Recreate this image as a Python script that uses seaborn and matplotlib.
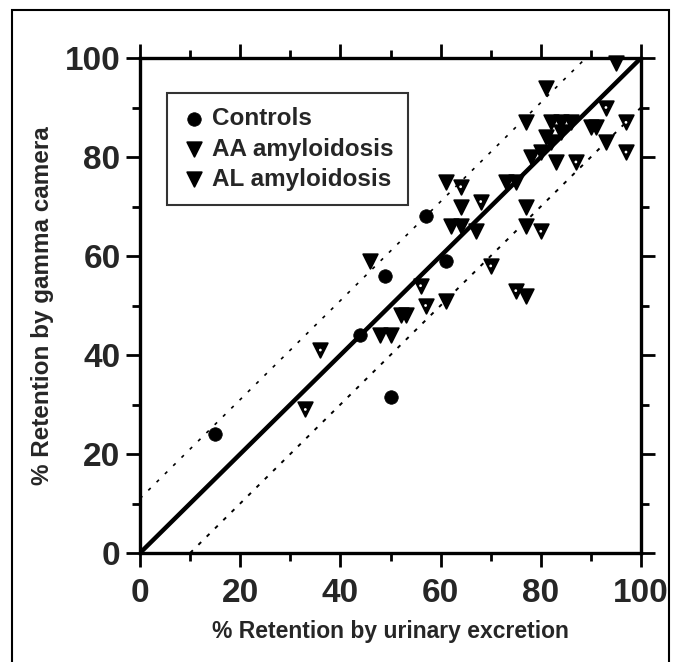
import matplotlib
matplotlib.use("Agg")
import matplotlib.pyplot as plt
import seaborn as sns
from matplotlib.patches import Rectangle
from matplotlib.ticker import MultipleLocator

# ---- data ----
controls_x = [15, 44, 49, 50, 57, 61]
controls_y = [24, 44, 56, 31.5, 68, 59]

aa_x = [46, 48, 50, 52, 53, 61, 61, 64, 62, 64, 67, 73, 75, 77, 77, 77, 78, 80,
        81, 81, 82, 83, 82, 84, 86, 84, 91, 93, 95, 77, 90]
aa_y = [59, 44, 44, 48, 48, 51, 75, 70, 66, 66, 65, 75, 75, 87, 66, 70, 80, 81,
        94, 84, 83, 79, 87, 87, 87, 85, 86, 83, 99, 52, 86]

al_x = [33, 36, 56, 57, 64, 68, 70, 75, 80, 87, 93, 97, 97]
al_y = [29, 41, 54, 50, 74, 71, 58, 53, 65, 79, 90, 87, 81]

identity_x = [0, 100]
identity_y = [0, 100]
upper_x = [0, 89]
upper_y = [11, 100]
lower_x = [10, 100]
lower_y = [0, 90]

x_ticks = [0, 20, 40, 60, 80, 100]
y_ticks = [0, 20, 40, 60, 80, 100]

sns.set_style("ticks")
plt.rcParams['font.family'] = ['Liberation Sans', 'DejaVu Sans']

fig = plt.figure(figsize=(6.81, 6.62), dpi=100)
ax = fig.add_axes([140/681, 1-553/662, (641-140)/681, (553-58)/662])

ax.plot(identity_x, identity_y, color='black', lw=3.2, zorder=2)
ax.plot(upper_x, upper_y, color='black', lw=1.2, ls=(0, (2, 5)), zorder=2)
ax.plot(lower_x, lower_y, color='black', lw=1.4, ls=(0, (2, 4)), zorder=2)

sns.scatterplot(x=controls_x, y=controls_y, ax=ax, marker='o', s=95,
                color='black', edgecolor='black', linewidth=0.5,
                label='Controls', zorder=3, clip_on=False)
sns.scatterplot(x=aa_x, y=aa_y, ax=ax, marker='v', s=110,
                color='black', edgecolor='black', linewidth=1.3,
                label='AA amyloidosis', zorder=3, clip_on=False)
sns.scatterplot(x=al_x, y=al_y, ax=ax, marker='v', s=110,
                color='black', edgecolor='black', linewidth=1.3,
                label='AL amyloidosis', zorder=3, clip_on=False)
# small white centre dot that marks the AL symbols
sns.scatterplot(x=al_x, y=al_y, ax=ax, marker='o', s=4,
                color='white', edgecolor='none', linewidth=0,
                zorder=4, legend=False)

ax.set_xlim(0, 100)
ax.set_ylim(0, 100)
ax.set_xticks(x_ticks)
ax.set_yticks(y_ticks)
ax.xaxis.set_minor_locator(MultipleLocator(10))
ax.yaxis.set_minor_locator(MultipleLocator(10))
ax.tick_params(which='both', direction='out', top=True, right=True,
               bottom=True, left=True, width=2, color='black')
ax.tick_params(which='major', length=10, labelsize=24)
ax.tick_params(axis='x', which='major', pad=8)
ax.tick_params(axis='y', which='major', pad=4)
ax.tick_params(which='minor', length=6)
for lab in ax.get_xticklabels() + ax.get_yticklabels():
    lab.set_fontweight('bold')
for sp in ax.spines.values():
    sp.set_visible(True)
    sp.set_linewidth(2.4)
    sp.set_color('black')

ax.set_xlabel('% Retention by urinary excretion', fontsize=16.5,
              fontweight='bold', labelpad=8)
ax.set_ylabel('% Retention by gamma camera', fontsize=17.5,
              fontweight='bold', labelpad=8)

leg = ax.legend(loc='upper left', bbox_to_anchor=(0.054, 0.93),
                frameon=True, fancybox=False, edgecolor='black',
                handletextpad=0.25, borderpad=0.6,
                labelspacing=0.3, handlelength=1.0, borderaxespad=0,
                prop={'weight': 'bold', 'size': 17.5})
leg.get_frame().set_linewidth(1.5)

fig.add_artist(Rectangle((12/681, -0.02), (669-12)/681, 1-10/662+0.02,
                         transform=fig.transFigure, fill=False,
                         lw=1.5, edgecolor='black'))

fig.savefig('out.png', dpi=100, facecolor='white')
